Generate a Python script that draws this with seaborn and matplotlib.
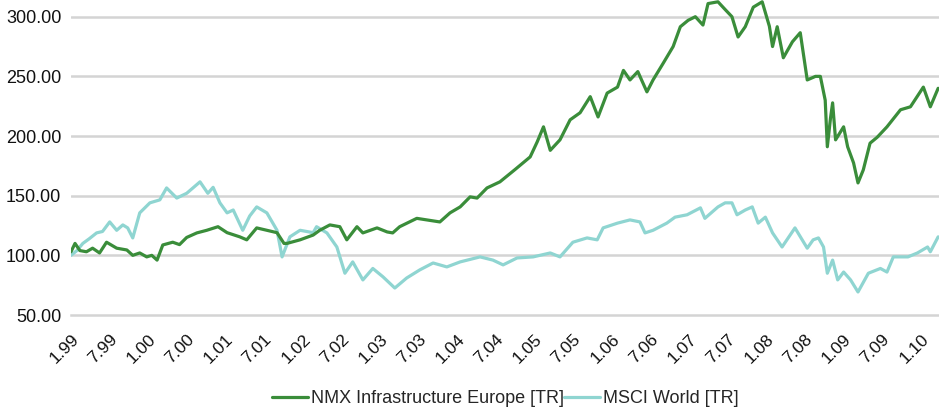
import matplotlib
matplotlib.use("Agg")
import matplotlib.pyplot as plt
import seaborn as sns
import pandas as pd
from matplotlib.ticker import FuncFormatter

# ---------------- data ----------------
nmx_dates = [
    "1999-01-01", "1999-01-20", "1999-02-12", "1999-03-15", "1999-04-13", "1999-05-16",
    "1999-06-18", "1999-08-05", "1999-09-22", "1999-10-20", "1999-11-22", "1999-12-25",
    "2000-01-18", "2000-02-12", "2000-03-10", "2000-04-26", "2000-05-28", "2000-07-01",
    "2000-08-18", "2000-10-04", "2000-11-26", "2001-01-08", "2001-03-09", "2001-04-11",
    "2001-05-28", "2001-07-15", "2001-09-01", "2001-10-04", "2001-10-18", "2001-12-19",
    "2002-02-19", "2002-03-22", "2002-05-09", "2002-06-25", "2002-07-28", "2002-09-14",
    "2002-10-12", "2002-12-18", "2003-02-04", "2003-03-02", "2003-04-04", "2003-06-24",
    "2003-08-10", "2003-10-11", "2003-11-28", "2004-01-15", "2004-03-02", "2004-04-04",
    "2004-05-21", "2004-07-21", "2004-10-01", "2004-12-11", "2005-01-13", "2005-02-12",
    "2005-03-16", "2005-05-01", "2005-06-18", "2005-08-04", "2005-09-21", "2005-10-28",
    "2005-12-10", "2006-01-28", "2006-02-25", "2006-03-28", "2006-05-04", "2006-06-16",
    "2006-07-15", "2006-09-01", "2006-10-18", "2006-11-21", "2006-12-28", "2007-01-31",
    "2007-03-08", "2007-04-01", "2007-05-18", "2007-06-21", "2007-07-23", "2007-08-21",
    "2007-09-24", "2007-11-01", "2007-12-13", "2008-01-16", "2008-01-31", "2008-02-22",
    "2008-03-22", "2008-05-04", "2008-06-10", "2008-07-13", "2008-08-21", "2008-09-13",
    "2008-10-06", "2008-10-16", "2008-10-31", "2008-11-10", "2008-11-24", "2009-01-01",
    "2009-01-20", "2009-02-17", "2009-03-10", "2009-04-04", "2009-05-06", "2009-06-09",
    "2009-07-25", "2009-09-27", "2009-11-13", "2010-01-13", "2010-02-15", "2010-03-24",
]
nmx_values = [
    103, 110, 104, 103, 106, 102,
    111, 106, 104.5, 100, 102, 98.7,
    100, 96, 108.7, 111, 109, 115,
    118.8, 121, 124, 119, 115.5, 113,
    123, 121, 119, 110, 110, 113,
    117, 121, 125.5, 124, 113, 124,
    118.8, 123, 119.6, 118.8, 124, 131,
    129.7, 128, 135.6, 140.6, 149, 148,
    156.5, 161.6, 172, 182.5, 195, 207.7,
    188, 196.8, 213.6, 219.5, 233, 216,
    236, 241, 255, 247, 254, 237,
    247, 261, 275, 291.6, 297, 300,
    293, 311, 312.5, 306, 300, 283,
    291.6, 308, 312.5, 292, 275, 291.6,
    265.6, 279, 286.6, 247, 250, 250,
    230, 191, 215, 227.8, 196.8, 207.7,
    191, 177.5, 160.7, 171.6, 194, 199,
    207.7, 222, 224.5, 241, 224.5, 240,
]

msci_dates = [
    "1999-01-01", "1999-01-29", "1999-02-26", "1999-03-29", "1999-05-02", "1999-05-30",
    "1999-07-03", "1999-08-05", "1999-09-03", "1999-09-26", "1999-10-20", "1999-11-22",
    "2000-01-09", "2000-02-25", "2000-03-28", "2000-05-15", "2000-07-01", "2000-09-02",
    "2000-10-09", "2000-11-03", "2000-12-05", "2001-01-08", "2001-02-06", "2001-03-23",
    "2001-04-25", "2001-05-28", "2001-07-15", "2001-09-01", "2001-09-25", "2001-11-01",
    "2001-12-19", "2002-02-19", "2002-03-07", "2002-04-25", "2002-06-11", "2002-07-19",
    "2002-08-25", "2002-10-12", "2002-11-28", "2003-01-15", "2003-03-12", "2003-05-07",
    "2003-07-08", "2003-09-09", "2003-11-13", "2004-01-15", "2004-04-18", "2004-06-18",
    "2004-08-05", "2004-10-10", "2004-12-25", "2005-03-16", "2005-05-01", "2005-07-01",
    "2005-09-06", "2005-10-24", "2005-11-21", "2006-01-28", "2006-03-28", "2006-05-14",
    "2006-06-07", "2006-07-15", "2006-09-18", "2006-10-27", "2006-12-23", "2007-02-24",
    "2007-03-17", "2007-05-18", "2007-06-21", "2007-07-23", "2007-08-16", "2007-09-24",
    "2007-10-27", "2007-11-24", "2007-12-28", "2008-01-31", "2008-03-16", "2008-05-16",
    "2008-07-13", "2008-08-10", "2008-09-04", "2008-09-28", "2008-10-16", "2008-11-10",
    "2008-12-04", "2009-01-01", "2009-02-03", "2009-03-10", "2009-04-28", "2009-06-24",
    "2009-07-25", "2009-08-24", "2009-11-01", "2009-12-16", "2010-02-02", "2010-02-15",
    "2010-03-24",
]
msci_values = [
    100, 104, 110, 114, 118.8, 120,
    128, 121, 125.5, 123, 114.6, 135.6,
    144, 146.5, 156.5, 148, 152, 161.6,
    152, 157, 144, 135.6, 138, 121,
    133, 140.6, 135.6, 121, 98.7, 115.5,
    121, 119, 124, 118.8, 107, 85,
    94.5, 79.4, 89, 82, 72.6, 81,
    87.8, 93.6, 90.3, 94.5, 98.7, 96,
    92, 97.8, 98.7, 102, 98.7, 111,
    114.6, 113, 123, 127, 129.7, 128,
    118.8, 121, 127, 132, 134, 139.8,
    131, 140.6, 144, 144, 134, 138,
    140.6, 127, 132, 118.8, 107, 123,
    106, 113, 114.6, 107, 85, 96,
    79.4, 86, 79.4, 69.3, 85, 89,
    86, 98.7, 98.7, 102, 107, 103,
    115.5,
]

series_names = ["NMX Infrastructure Europe [TR]", "MSCI World [TR]"]
series_colors = ["#3a8d3a", "#8fd5d1"]

y_ticks = [50, 100, 150, 200, 250, 300]
x_tick_dates = [
    "1999-01-01", "1999-07-01", "2000-01-01", "2000-07-01", "2001-01-01", "2001-07-01",
    "2002-01-01", "2002-07-01", "2003-01-01", "2003-07-01", "2004-01-01", "2004-07-01",
    "2005-01-01", "2005-07-01", "2006-01-01", "2006-07-01", "2007-01-01", "2007-07-01",
    "2008-01-01", "2008-07-01", "2009-01-01", "2009-07-01", "2010-01-01",
]
x_tick_labels = [
    "1.99", "7.99", "1.00", "7.00", "1.01", "7.01", "1.02", "7.02", "1.03", "7.03",
    "1.04", "7.04", "1.05", "7.05", "1.06", "7.06", "1.07", "7.07", "1.08", "7.08",
    "1.09", "7.09", "1.10",
]

# ---------------- plot ----------------
sns.set_style("white")
plt.rcParams["font.family"] = ["Liberation Sans", "DejaVu Sans"]

fig = plt.figure(figsize=(9.39, 4.12), dpi=100)
ax = fig.add_axes([71 / 939, 1 - 315 / 412, 1 - 71 / 939, 315 / 412])

df_nmx = pd.DataFrame({"date": pd.to_datetime(nmx_dates), "value": nmx_values})
df_msci = pd.DataFrame({"date": pd.to_datetime(msci_dates), "value": msci_values})

grid_color = "#d4d4d4"
for yv in y_ticks[1:]:
    ax.axhline(yv, color=grid_color, lw=1.8, zorder=0)

sns.lineplot(data=df_nmx, x="date", y="value", ax=ax, color=series_colors[0],
             lw=2.3, label=series_names[0], legend=False, zorder=3)
sns.lineplot(data=df_msci, x="date", y="value", ax=ax, color=series_colors[1],
             lw=2.3, label=series_names[1], legend=False, zorder=2)

ax.set_xlim(pd.Timestamp("1999-01-01"), pd.Timestamp("2010-03-28"))
ax.set_ylim(50, 314)

ax.set_yticks(y_ticks)
ax.yaxis.set_major_formatter(FuncFormatter(lambda v, p: f"{v:.2f}"))
ax.tick_params(axis="y", length=0, pad=7, labelsize=13, colors="#111111")

ax.set_xticks(pd.to_datetime(x_tick_dates))
ax.set_xticklabels(x_tick_labels, rotation=45, ha="right", va="top",
                   rotation_mode="anchor")
ax.tick_params(axis="x", direction="out", length=6, width=1.8, color=grid_color,
               pad=6, labelsize=12.5, colors="#111111")
ax.tick_params(axis="x", color=grid_color)

for s in ["top", "right", "left"]:
    ax.spines[s].set_visible(False)
ax.spines["bottom"].set_color(grid_color)
ax.spines["bottom"].set_linewidth(1.8)

ax.set_xlabel("")
ax.set_ylabel("")

handles, labels = ax.get_legend_handles_labels()
fig.legend(handles, labels, loc="center", bbox_to_anchor=(0.538, 0.032),
           bbox_transform=fig.transFigure, ncol=2, frameon=False, fontsize=13,
           handlelength=2.0, handletextpad=0.15, columnspacing=0.0)

fig.savefig("out.png", dpi=100)
